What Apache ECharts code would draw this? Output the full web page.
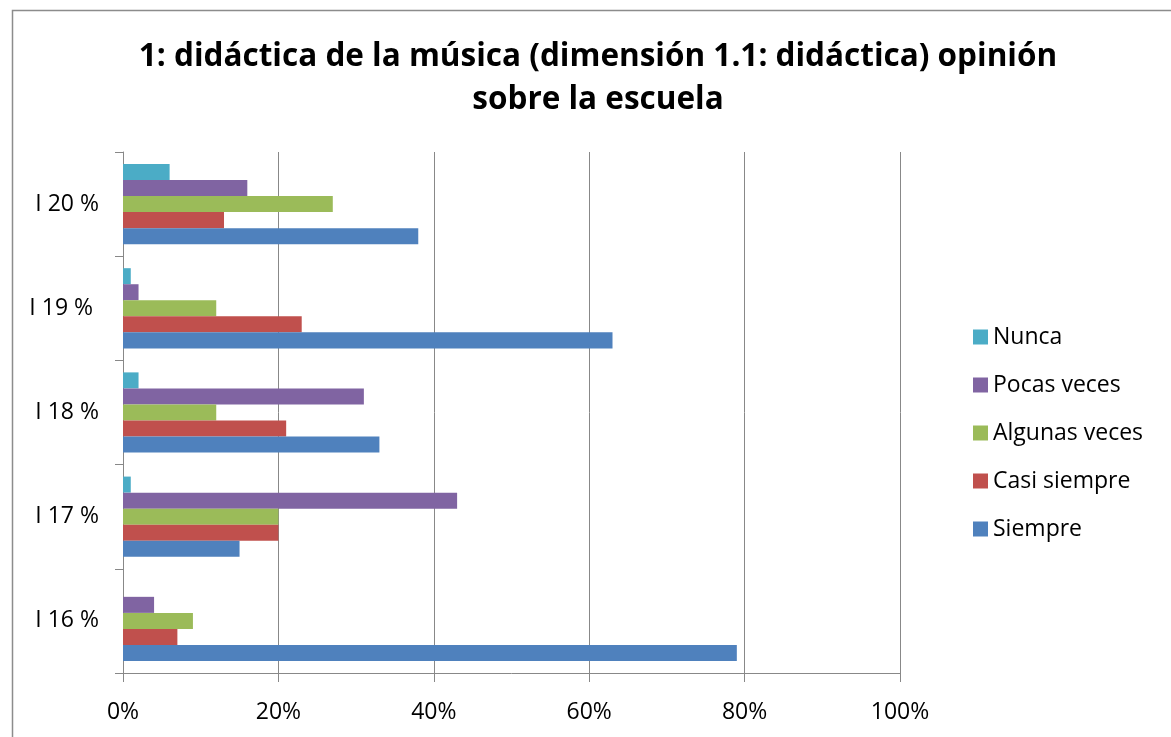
<!DOCTYPE html>
<html>
<head>
<meta charset="utf-8">
<script src="https://cdn.jsdelivr.net/npm/echarts@6/dist/echarts.min.js"></script>
<style>
  html, body { margin: 0; padding: 0; background: #fff; }
  #chart { width: 1171px; height: 737px; }
</style>
</head>
<body>
<div id="chart"></div>
<script>
  // categorías (de abajo hacia arriba)
  const categories = ['I 16 %', 'I 17 %', 'I 18 %', 'I 19 % ', 'I 20 %'];
  const siempre = [79, 15, 33, 63, 38];
  const casiSiempre = [7, 20, 21, 23, 13];
  const algunasVeces = [9, 20, 12, 12, 27];
  const pocasVeces = [4, 43, 31, 2, 16];
  const nunca = [0, 1, 2, 1, 6];
  const xTicks = [0, 20, 40, 60, 80, 100];

  const font = '"Open Sans", sans-serif';
  const chart = echarts.init(document.getElementById('chart'));

  function serie(name, data, color) {
    return {
      name: name,
      type: 'bar',
      data: data,
      barGap: '0%',
      barCategoryGap: '23%',
      itemStyle: { color: color },
      emphasis: { disabled: true }
    };
  }

  const option = {
    animation: false,
    graphic: [{
      type: 'rect',
      left: 10, top: 8,
      shape: { width: 1300, height: 900 },
      style: { fill: 'none', stroke: '#8c8c8c', lineWidth: 1.5 },
      silent: true
    }],
    title: {
      text: '1: didáctica de la música (dimensión 1.1: didáctica) opinión\nsobre la escuela',
      left: 593, top: 31, textAlign: 'center',
      textStyle: { fontFamily: font, fontWeight: 'bold', fontSize: 31.5, lineHeight: 43, color: '#000' }
    },
    legend: {
      orient: 'vertical',
      left: 968, top: 318,
      itemWidth: 15, itemHeight: 15, itemGap: 20,
      icon: 'rect',
      data: ['Nunca', 'Pocas veces', 'Algunas veces', 'Casi siempre', 'Siempre'],
      textStyle: { fontFamily: font, fontSize: 23, lineHeight: 28, color: '#000' }
    },
    grid: { left: 123, right: 271, top: 152, bottom: 64 },
    xAxis: {
      type: 'value',
      min: 0, max: 100, interval: 20,
      axisLine: { show: true, lineStyle: { color: '#888' } },
      axisTick: { show: true, length: 9, lineStyle: { color: '#888' } },
      splitLine: { show: true, lineStyle: { color: '#888' } },
      axisLabel: {
        fontFamily: font, fontSize: 23, color: '#000', margin: 28,
        formatter: function (v) { return xTicks.indexOf(v) >= 0 ? v + '%' : ''; }
      }
    },
    yAxis: {
      type: 'category',
      data: categories,
      axisLine: { show: true, lineStyle: { color: '#888' } },
      axisTick: { show: true, length: 8, lineStyle: { color: '#888' } },
      axisLabel: { fontFamily: font, fontSize: 23, color: '#000', margin: 24 }
    },
    series: [
      serie('Nunca', nunca, '#4BACC6'),
      serie('Pocas veces', pocasVeces, '#8064A2'),
      serie('Algunas veces', algunasVeces, '#9BBB59'),
      serie('Casi siempre', casiSiempre, '#C0504D'),
      serie('Siempre', siempre, '#4F81BD')
    ]
  };
  chart.setOption(option);
</script>
</body>
</html>
